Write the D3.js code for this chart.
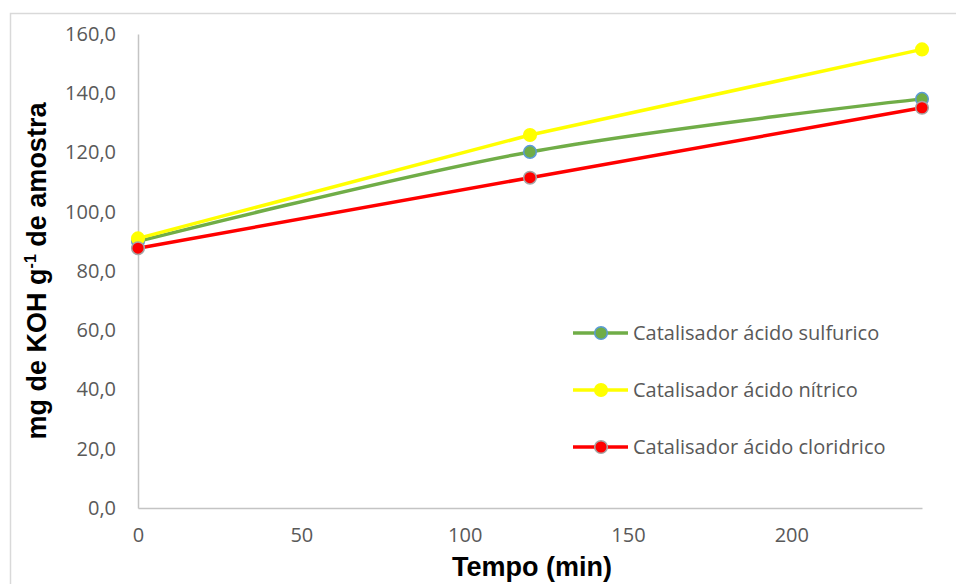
<!DOCTYPE html>
<html>
<head>
<meta charset="utf-8">
<script src="https://cdn.jsdelivr.net/npm/d3@7"></script>
<style>
  html, body { margin: 0; padding: 0; background: #fff; }
  svg { display: block; }
</style>
</head>
<body>
<svg id="chart" width="956" height="584"></svg>
<script>
// ---- data ----
const times = [0, 120, 240];
const sulfurico = [90.0, 120.2, 138.1];
const nitrico = [91.0, 125.9, 154.8];
const cloridrico = [87.7, 111.5, 135.1];
const seriesNames = ["Catalisador ácido sulfurico", "Catalisador ácido nítrico", "Catalisador ácido cloridrico"];
const xTicks = [0, 50, 100, 150, 200];
const yTicks = [0, 20, 40, 60, 80, 100, 120, 140, 160];

const series = [
  { name: seriesNames[0], values: sulfurico, line: "#70AD47", fill: "#70AD47", stroke: "#5B9BD5", smooth: true },
  { name: seriesNames[1], values: nitrico, line: "#FFFF00", fill: "#FFFF00", stroke: "#FFFF00", smooth: false },
  { name: seriesNames[2], values: cloridrico, line: "#FF0000", fill: "#FF0000", stroke: "#A5A5A5", smooth: false }
];

const svg = d3.select("#chart");
const labelFont = "'Open Sans', sans-serif";
const titleFont = "'Liberation Sans', Arial, sans-serif";

// outer chart border (left and top visible)
svg.append("path")
  .attr("d", "M10.5,590 L10.5,13.5 L960,13.5")
  .attr("fill", "none").attr("stroke", "#d9d9d9").attr("stroke-width", 1.5);

const x = d3.scaleLinear().domain([0, 240]).range([138, 922]);
const y = d3.scaleLinear().domain([0, 160]).range([508, 34]);

const fmt = d => d.toFixed(1).replace(".", ",");

// y axis
const yAxis = svg.append("g").attr("transform", `translate(${x(0)},0)`)
  .call(d3.axisLeft(y).tickValues(yTicks).tickFormat(fmt).tickSize(0).tickPadding(22));
yAxis.select(".domain").attr("stroke", "#c4c4c4").attr("stroke-width", 1.5);
yAxis.selectAll("text").attr("font-family", labelFont).attr("font-size", 20).attr("fill", "#595959");

// x axis
const xAxis = svg.append("g").attr("transform", `translate(0,${y(0)})`)
  .call(d3.axisBottom(x).tickValues(xTicks).tickFormat(d3.format("d")).tickSize(0).tickPadding(20));
xAxis.select(".domain").attr("stroke", "#c4c4c4").attr("stroke-width", 1.5);
xAxis.selectAll("text").attr("font-family", labelFont).attr("font-size", 20).attr("fill", "#595959");

// axis titles
svg.append("text")
  .attr("x", 532).attr("y", 576)
  .attr("text-anchor", "middle")
  .attr("font-family", titleFont)
  .attr("font-weight", "bold").attr("font-size", 27).attr("fill", "#000")
  .text("Tempo (min)");

const yt = svg.append("text")
  .attr("transform", "translate(46,271) rotate(-90)")
  .attr("text-anchor", "middle")
  .attr("font-family", titleFont)
  .attr("font-weight", "bold").attr("font-size", 27).attr("fill", "#000");
yt.append("tspan").text("mg de KOH g");
yt.append("tspan").attr("dy", -10).attr("font-size", 16).text("-1");
yt.append("tspan").attr("dy", 10).text(" de amostra");

// lines
const plot = svg.append("g");
series.forEach(s => {
  const pts = times.map((t, i) => [t, s.values[i]]);
  const line = d3.line()
    .x(d => x(d[0])).y(d => y(d[1]))
    .curve(s.smooth ? d3.curveCatmullRom.alpha(0.5) : d3.curveLinear);
  plot.append("path").datum(pts)
    .attr("d", line)
    .attr("fill", "none").attr("stroke", s.line).attr("stroke-width", 3.5)
    .attr("stroke-linejoin", "round");
  plot.selectAll(null).data(pts).enter().append("circle")
    .attr("cx", d => x(d[0])).attr("cy", d => y(d[1])).attr("r", 6.3)
    .attr("fill", s.fill).attr("stroke", s.stroke).attr("stroke-width", 1.5);
});

// legend
const legend = svg.append("g");
series.forEach((s, i) => {
  const ly = 333 + i * 57;
  legend.append("line").attr("x1", 573).attr("x2", 628).attr("y1", ly).attr("y2", ly)
    .attr("stroke", s.line).attr("stroke-width", 3.5);
  legend.append("circle").attr("cx", 601).attr("cy", ly).attr("r", 6.3)
    .attr("fill", s.fill).attr("stroke", s.stroke).attr("stroke-width", 1.5);
  legend.append("text").attr("x", 633).attr("y", ly).attr("dy", "0.36em")
    .attr("font-family", labelFont).attr("font-size", 20).attr("fill", "#595959")
    .text(s.name);
});
</script>
</body>
</html>
